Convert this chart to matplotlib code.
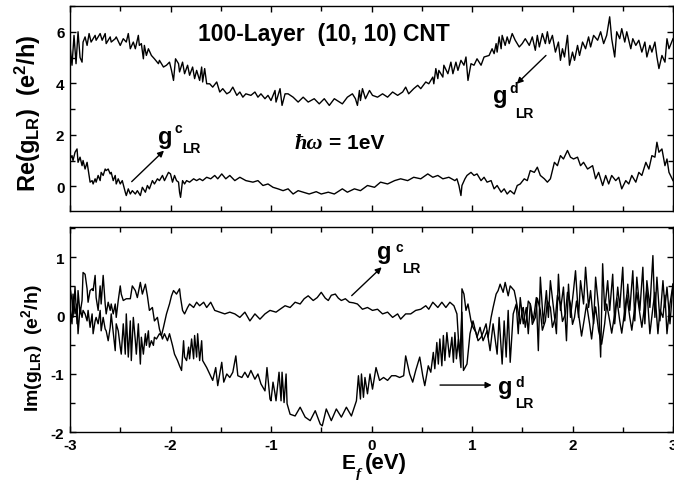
import matplotlib
matplotlib.use('Agg')
import matplotlib.pyplot as plt
from matplotlib.ticker import MultipleLocator

plt.rcParams['font.family'] = ['Liberation Sans', 'DejaVu Sans']
plt.rcParams['font.weight'] = 'bold'
plt.rcParams['axes.unicode_minus'] = False
plt.rcParams['mathtext.fontset'] = 'custom'
plt.rcParams['mathtext.rm'] = 'Liberation Sans:bold'
plt.rcParams['mathtext.bf'] = 'Liberation Sans:bold'
plt.rcParams['mathtext.it'] = 'Liberation Sans:italic:bold'

# ---- data: (E_f [eV], value [e^2/h]) ----
re_gd = [(-3.00, 5.47), (-2.98, 4.70), (-2.96, 5.86), (-2.94, 4.76), (-2.92, 6.00), (-2.90, 5.00),
         (-2.88, 4.82), (-2.87, 5.60), (-2.85, 5.80), (-2.83, 5.47), (-2.81, 5.93), (-2.79, 5.60),
         (-2.75, 5.86), (-2.74, 5.67), (-2.70, 5.93), (-2.68, 5.67), (-2.65, 5.93), (-2.64, 5.54),
         (-2.60, 5.80), (-2.59, 5.60), (-2.55, 5.73), (-2.54, 5.80), (-2.50, 5.47), (-2.47, 5.73),
         (-2.44, 5.60), (-2.42, 5.93), (-2.40, 5.34), (-2.37, 5.60), (-2.35, 5.34), (-2.32, 5.86),
         (-2.31, 5.47), (-2.29, 5.54), (-2.27, 4.95), (-2.26, 5.47), (-2.24, 5.08), (-2.22, 5.34),
         (-2.19, 5.08), (-2.16, 4.95), (-2.12, 4.76), (-2.11, 4.89), (-2.07, 4.63), (-2.04, 4.70),
         (-2.01, 4.82), (-1.99, 4.50), (-1.97, 4.11), (-1.95, 4.95), (-1.92, 4.76), (-1.91, 4.44),
         (-1.88, 4.82), (-1.86, 4.37), (-1.83, 4.70), (-1.81, 4.31), (-1.78, 4.63), (-1.76, 4.18),
         (-1.74, 4.50), (-1.71, 4.11), (-1.69, 4.63), (-1.68, 4.05), (-1.66, 4.57), (-1.64, 3.98),
         (-1.61, 3.98), (-1.58, 3.85), (-1.54, 4.05), (-1.51, 3.66), (-1.48, 3.79), (-1.44, 3.59),
         (-1.41, 3.66), (-1.38, 3.85), (-1.34, 3.53), (-1.31, 3.66), (-1.28, 3.46), (-1.25, 3.59),
         (-1.20, 3.53), (-1.16, 3.66), (-1.13, 3.46), (-1.10, 3.59), (-1.06, 3.40), (-1.03, 3.53),
         (-1.00, 3.33), (-0.96, 3.72), (-0.95, 3.27), (-0.91, 3.79), (-0.89, 3.14), (-0.86, 3.59),
         (-0.83, 3.59), (-0.78, 3.46), (-0.73, 3.27), (-0.68, 3.46), (-0.63, 3.27), (-0.57, 3.40),
         (-0.52, 3.20), (-0.47, 3.40), (-0.42, 3.14), (-0.37, 3.40), (-0.29, 3.20), (-0.24, 3.46),
         (-0.19, 3.59), (-0.16, 3.40), (-0.14, 3.14), (-0.12, 3.72), (-0.11, 3.33), (-0.09, 3.79),
         (-0.06, 3.40), (-0.02, 3.72), (0.01, 3.53), (0.06, 3.46), (0.11, 3.59), (0.16, 3.46),
         (0.21, 3.66), (0.26, 3.53), (0.31, 3.66), (0.34, 3.85), (0.37, 3.59), (0.42, 3.79),
         (0.46, 3.92), (0.49, 3.79), (0.54, 4.05), (0.57, 3.98), (0.61, 4.24), (0.62, 3.98),
         (0.64, 4.57), (0.66, 4.18), (0.67, 4.50), (0.71, 4.24), (0.72, 4.70), (0.76, 4.37),
         (0.79, 4.82), (0.81, 4.37), (0.84, 4.82), (0.86, 4.50), (0.89, 4.89), (0.92, 4.70),
         (0.94, 5.02), (0.96, 4.11), (0.99, 4.76), (1.02, 4.70), (1.05, 4.95), (1.09, 4.70),
         (1.12, 5.02), (1.17, 5.08), (1.20, 5.34), (1.22, 5.15), (1.24, 5.54), (1.25, 5.21),
         (1.27, 5.80), (1.29, 5.34), (1.30, 5.86), (1.33, 5.47), (1.35, 5.80), (1.37, 5.54),
         (1.40, 5.93), (1.43, 5.67), (1.47, 5.41), (1.50, 5.54), (1.53, 5.73), (1.57, 5.47),
         (1.60, 5.80), (1.63, 5.28), (1.65, 5.86), (1.67, 5.41), (1.70, 5.93), (1.73, 5.54),
         (1.75, 6.00), (1.77, 5.54), (1.80, 5.86), (1.83, 5.21), (1.86, 5.60), (1.88, 4.89),
         (1.90, 5.34), (1.92, 5.02), (1.95, 5.86), (1.97, 4.70), (2.00, 5.21), (2.02, 4.89),
         (2.05, 5.47), (2.07, 5.08), (2.10, 5.60), (2.13, 5.34), (2.16, 5.80), (2.18, 5.41),
         (2.21, 5.86), (2.25, 5.67), (2.28, 6.00), (2.31, 5.54), (2.34, 5.86), (2.37, 6.58),
         (2.39, 5.73), (2.42, 5.02), (2.44, 6.00), (2.47, 5.73), (2.49, 6.12), (2.52, 5.60),
         (2.54, 6.00), (2.58, 5.34), (2.60, 5.73), (2.63, 5.47), (2.66, 5.67), (2.69, 5.21),
         (2.72, 5.60), (2.74, 5.02), (2.77, 5.47), (2.79, 5.21), (2.82, 5.60), (2.84, 5.02),
         (2.86, 4.57), (2.89, 5.08), (2.92, 4.82), (2.94, 5.73), (2.96, 5.34), (3.00, 5.73)]

re_gc = [(-3.00, 1.06), (-2.98, 1.19), (-2.97, 1.00), (-2.95, 1.32), (-2.93, 1.45), (-2.92, 0.93),
         (-2.90, 1.13), (-2.88, 0.80), (-2.87, 1.00), (-2.85, 0.67), (-2.83, 0.93), (-2.82, 0.67),
         (-2.80, 0.16), (-2.78, 0.22), (-2.77, 0.09), (-2.75, 0.29), (-2.74, 0.16), (-2.72, 0.42),
         (-2.70, 0.22), (-2.69, 0.54), (-2.67, 0.42), (-2.65, 0.67), (-2.64, 0.61), (-2.62, 0.67),
         (-2.60, 0.48), (-2.59, 0.54), (-2.57, 0.22), (-2.55, 0.42), (-2.54, 0.09), (-2.52, 0.29),
         (-2.50, 0.09), (-2.48, 0.22), (-2.45, -0.23), (-2.44, -0.36), (-2.42, -0.10), (-2.40, -0.30),
         (-2.38, -0.17), (-2.35, -0.30), (-2.33, -0.17), (-2.30, -0.36), (-2.28, -0.04), (-2.25, -0.23),
         (-2.23, 0.03), (-2.21, -0.10), (-2.18, 0.22), (-2.16, 0.09), (-2.13, 0.29), (-2.11, 0.22),
         (-2.08, 0.42), (-2.06, 0.22), (-2.02, 0.54), (-2.00, 0.48), (-1.98, 0.16), (-1.96, 0.42),
         (-1.94, 0.22), (-1.92, 0.16), (-1.91, -0.23), (-1.90, -0.43), (-1.88, 0.22), (-1.86, 0.09),
         (-1.84, 0.22), (-1.81, 0.16), (-1.77, 0.29), (-1.74, 0.22), (-1.71, 0.29), (-1.68, 0.22),
         (-1.64, 0.35), (-1.60, 0.29), (-1.56, 0.42), (-1.53, 0.29), (-1.49, 0.48), (-1.45, 0.29),
         (-1.41, 0.42), (-1.36, 0.22), (-1.31, 0.35), (-1.25, 0.22), (-1.18, 0.16), (-1.13, 0.22),
         (-1.08, 0.03), (-1.03, 0.09), (-0.98, -0.04), (-0.93, -0.10), (-0.88, -0.17), (-0.83, -0.10),
         (-0.78, -0.30), (-0.73, -0.17), (-0.68, -0.23), (-0.62, -0.30), (-0.55, -0.21), (-0.50, -0.30),
         (-0.43, -0.23), (-0.37, -0.30), (-0.29, -0.10), (-0.24, -0.23), (-0.17, -0.10), (-0.11, -0.17),
         (-0.04, 0.03), (0.03, -0.04), (0.09, 0.16), (0.16, 0.09), (0.23, 0.22), (0.29, 0.29),
         (0.36, 0.22), (0.42, 0.35), (0.49, 0.29), (0.56, 0.48), (0.61, 0.35), (0.66, 0.42),
         (0.71, 0.29), (0.77, 0.35), (0.83, 0.22), (0.85, 0.29), (0.87, 0.03), (0.89, -0.36),
         (0.90, 0.03), (0.93, 0.29), (0.95, 0.42), (0.99, 0.54), (1.02, 0.42), (1.05, 0.48),
         (1.09, 0.22), (1.12, 0.35), (1.15, 0.16), (1.19, 0.22), (1.22, -0.10), (1.25, 0.03),
         (1.29, -0.23), (1.32, -0.10), (1.35, -0.30), (1.38, -0.17), (1.42, -0.30), (1.45, 0.03),
         (1.48, 0.09), (1.52, 0.29), (1.55, 0.22), (1.58, 0.61), (1.62, 0.54), (1.65, 0.74),
         (1.68, 0.42), (1.72, 0.29), (1.75, 0.16), (1.78, 0.29), (1.82, 0.93), (1.85, 0.80),
         (1.88, 1.19), (1.91, 1.06), (1.95, 1.39), (1.98, 1.13), (2.01, 1.06), (2.05, 1.13),
         (2.08, 0.80), (2.11, 0.93), (2.15, 0.67), (2.20, 0.80), (2.23, 0.29), (2.26, 0.54),
         (2.30, 0.03), (2.33, 0.42), (2.36, 0.09), (2.39, 0.42), (2.43, 0.22), (2.46, 0.35),
         (2.49, -0.10), (2.53, 0.22), (2.56, 0.09), (2.59, 0.42), (2.63, 0.16), (2.66, 0.54),
         (2.69, 0.42), (2.73, 0.93), (2.76, 0.67), (2.79, 1.19), (2.82, 1.13), (2.84, 1.71),
         (2.86, 1.32), (2.89, 1.45), (2.92, 0.80), (2.94, 1.06), (2.96, 0.54), (3.00, 0.22)]

im_gd = [(-3.00, 0.49), (-2.98, 0.26), (-2.97, -0.03), (-2.95, 0.49), (-2.93, -0.14), (-2.92, 0.43),
         (-2.90, 0.03), (-2.88, 0.26), (-2.87, 0.74), (-2.85, 0.71), (-2.83, 0.46), (-2.82, 0.23),
         (-2.80, 0.43), (-2.78, 0.46), (-2.77, 0.43), (-2.75, 0.69), (-2.74, 0.31), (-2.72, 0.09),
         (-2.70, 0.51), (-2.69, 0.20), (-2.67, 0.69), (-2.65, 0.20), (-2.64, 0.03), (-2.62, 0.23),
         (-2.60, 0.09), (-2.59, 0.20), (-2.57, 0.03), (-2.55, 0.20), (-2.54, -0.03), (-2.52, 0.26),
         (-2.50, 0.51), (-2.49, 0.37), (-2.47, 0.26), (-2.44, 0.29), (-2.40, 0.29), (-2.38, 0.51),
         (-2.35, 0.43), (-2.33, 0.31), (-2.30, 0.57), (-2.28, 0.37), (-2.25, 0.54), (-2.23, 0.34),
         (-2.21, 0.09), (-2.18, 0.14), (-2.16, -0.09), (-2.13, -0.03), (-2.11, -0.23), (-2.08, -0.40),
         (-2.06, -0.31), (-2.03, -0.43), (-2.01, -0.31), (-1.98, -0.51), (-1.96, -0.66), (-1.93, -0.77),
         (-1.91, -0.86), (-1.89, -0.94), (-1.87, -0.43), (-1.86, -0.71), (-1.84, -0.77), (-1.82, -0.54),
         (-1.81, -0.74), (-1.79, -0.40), (-1.77, -0.74), (-1.76, -0.34), (-1.74, -0.71), (-1.73, -0.31),
         (-1.71, -0.77), (-1.69, -0.43), (-1.68, -0.77), (-1.64, -0.89), (-1.61, -1.00), (-1.58, -1.11),
         (-1.55, -0.89), (-1.53, -1.20), (-1.49, -0.80), (-1.47, -1.14), (-1.44, -1.00), (-1.41, -1.06),
         (-1.38, -0.97), (-1.35, -0.69), (-1.33, -1.03), (-1.29, -1.06), (-1.26, -0.97), (-1.23, -1.06),
         (-1.20, -0.94), (-1.16, -1.09), (-1.13, -1.00), (-1.10, -1.17), (-1.06, -1.29), (-1.04, -0.89),
         (-1.01, -1.43), (-1.00, -1.46), (-0.98, -1.14), (-0.96, -1.34), (-0.95, -1.46), (-0.92, -0.97),
         (-0.90, -1.46), (-0.89, -0.97), (-0.87, -1.49), (-0.85, -1.00), (-0.84, -1.51), (-0.81, -1.69),
         (-0.76, -1.72), (-0.71, -1.57), (-0.66, -1.74), (-0.61, -1.80), (-0.56, -1.63), (-0.51, -1.86),
         (-0.49, -1.89), (-0.45, -1.60), (-0.40, -1.80), (-0.35, -1.60), (-0.30, -1.74), (-0.25, -1.57),
         (-0.20, -1.72), (-0.15, -1.46), (-0.13, -1.03), (-0.11, -1.43), (-0.10, -1.00), (-0.08, -1.40),
         (-0.065, -1.06), (-0.04, -1.34), (-0.015, -1.00), (0.01, -1.26), (0.045, -0.89), (0.08, -1.11),
         (0.12, -1.06), (0.16, -1.11), (0.20, -1.03), (0.24, -1.03), (0.28, -1.06), (0.32, -1.03),
         (0.34, -0.69), (0.38, -1.00), (0.41, -1.14), (0.44, -0.94), (0.48, -0.71), (0.51, -1.03),
         (0.53, -1.20), (0.565, -0.86), (0.59, -0.97), (0.615, -0.63), (0.63, -0.91), (0.65, -0.46),
         (0.665, -0.83), (0.68, -0.40), (0.70, -0.86), (0.715, -0.34), (0.73, -0.77), (0.75, -0.29),
         (0.775, -0.71), (0.80, -0.37), (0.815, -0.80), (0.83, -0.29), (0.845, -0.74), (0.865, -0.40),
         (0.88, -0.69), (0.90, 0.06), (0.915, -0.94), (0.95, -0.83), (0.98, -0.31), (1.01, -0.09),
         (1.05, -0.37), (1.08, -0.20), (1.11, -0.43), (1.15, -0.26), (1.18, -0.60), (1.21, -0.14),
         (1.25, -0.66), (1.27, -0.03), (1.30, -0.83), (1.32, -0.09), (1.34, -0.71), (1.36, 0.09),
         (1.38, -0.80), (1.41, 0.03), (1.44, 0.20), (1.46, -0.31), (1.48, 0.31), (1.51, -0.14),
         (1.54, 0.14), (1.56, -0.31), (1.58, 0.20), (1.61, -0.09), (1.64, 0.31), (1.66, -0.60),
         (1.68, 0.66), (1.71, -0.14), (1.74, 0.43), (1.76, -0.03), (1.78, 0.60), (1.81, 0.14),
         (1.84, -0.31), (1.86, 0.71), (1.88, 0.09), (1.91, 0.49), (1.94, -0.43), (1.96, 0.54),
         (1.98, -0.03), (2.01, 0.43), (2.03, 0.77), (2.06, -0.03), (2.08, 0.60), (2.11, 0.20),
         (2.13, 0.83), (2.16, 0.14), (2.18, 0.43), (2.21, -0.14), (2.23, 0.66), (2.26, 0.14),
         (2.28, -0.71), (2.30, 0.89), (2.32, 0.09), (2.35, 0.60), (2.37, 0.09), (2.40, 0.71),
         (2.42, -0.14), (2.45, 0.49), (2.47, 0.14), (2.50, 0.83), (2.52, -0.09), (2.55, 0.54),
         (2.57, 0.09), (2.60, 0.77), (2.62, -0.09), (2.64, 0.66), (2.67, 0.09), (2.70, 0.83),
         (2.72, -0.14), (2.74, 0.60), (2.77, 0.14), (2.80, 1.03), (2.82, -0.03), (2.84, 0.66),
         (2.87, -0.09), (2.90, 0.60), (2.92, 0.14), (2.94, 0.49), (2.97, -0.14), (3.00, 0.54)]

im_gc = [(-3.00, 0.14), (-2.98, -0.14), (-2.97, 0.37), (-2.95, 0.03), (-2.93, 0.20), (-2.92, -0.31),
         (-2.90, 0.14), (-2.88, -0.03), (-2.87, 0.09), (-2.85, 0.03), (-2.83, -0.09), (-2.82, 0.09),
         (-2.80, -0.20), (-2.78, 0.03), (-2.77, -0.31), (-2.75, -0.09), (-2.74, -0.03), (-2.72, -0.14),
         (-2.70, 0.09), (-2.69, -0.26), (-2.67, -0.03), (-2.65, -0.23), (-2.64, -0.26), (-2.62, -0.43),
         (-2.60, -0.20), (-2.59, 0.03), (-2.57, -0.29), (-2.55, -0.60), (-2.54, -0.14), (-2.52, -0.26),
         (-2.50, -0.54), (-2.49, -0.66), (-2.47, -0.14), (-2.45, -0.66), (-2.44, 0.03), (-2.42, -0.71),
         (-2.40, -0.09), (-2.39, -0.77), (-2.37, -0.03), (-2.35, -0.43), (-2.34, -0.66), (-2.32, -0.14),
         (-2.30, -0.83), (-2.29, -0.37), (-2.27, -0.66), (-2.25, -0.31), (-2.24, -0.51), (-2.22, -0.26),
         (-2.21, -0.54), (-2.19, -0.43), (-2.17, -0.51), (-2.16, -0.37), (-2.14, -0.40), (-2.11, -0.31),
         (-2.09, -0.34), (-2.07, -0.20), (-2.04, 0.03), (-2.01, 0.20), (-1.99, 0.34), (-1.97, 0.43),
         (-1.94, 0.37), (-1.91, 0.46), (-1.90, 0.31), (-1.88, 0.09), (-1.86, 0.03), (-1.83, 0.14),
         (-1.81, 0.20), (-1.77, 0.14), (-1.74, 0.23), (-1.71, 0.17), (-1.67, 0.23), (-1.64, 0.14),
         (-1.60, 0.23), (-1.56, 0.09), (-1.51, 0.06), (-1.46, 0.03), (-1.41, 0.06), (-1.36, 0.03),
         (-1.31, -0.03), (-1.26, 0.06), (-1.21, -0.09), (-1.16, 0.03), (-1.11, -0.06), (-1.06, 0.03),
         (-1.01, 0.09), (-0.95, 0.06), (-0.91, 0.11), (-0.86, 0.17), (-0.81, 0.14), (-0.76, 0.23),
         (-0.71, 0.20), (-0.67, 0.29), (-0.63, 0.34), (-0.58, 0.26), (-0.54, 0.31), (-0.50, 0.40),
         (-0.46, 0.30), (-0.43, 0.26), (-0.40, 0.35), (-0.36, 0.37), (-0.33, 0.30), (-0.30, 0.26),
         (-0.26, 0.29), (-0.22, 0.23), (-0.18, 0.22), (-0.14, 0.20), (-0.09, 0.11), (-0.04, 0.14),
         (0.01, 0.09), (0.06, 0.11), (0.11, 0.03), (0.16, 0.06), (0.21, -0.03), (0.26, 0.03),
         (0.29, -0.06), (0.34, 0.03), (0.39, 0.03), (0.44, 0.09), (0.49, 0.11), (0.54, 0.17),
         (0.57, 0.11), (0.61, 0.23), (0.66, 0.14), (0.70, 0.23), (0.74, 0.14), (0.78, 0.23),
         (0.82, 0.17), (0.85, 0.03), (0.87, -0.54), (0.89, -0.89), (0.90, 0.46), (0.92, 0.37),
         (0.94, 0.09), (0.96, 0.20), (0.99, -0.09), (1.01, -0.20), (1.04, -0.29), (1.06, -0.43),
         (1.09, -0.37), (1.11, -0.29), (1.14, -0.14), (1.16, -0.37), (1.19, -0.03), (1.21, 0.14),
         (1.24, 0.37), (1.26, 0.43), (1.28, 0.54), (1.31, 0.40), (1.33, 0.57), (1.36, 0.34),
         (1.38, 0.51), (1.42, 0.43), (1.44, 0.26), (1.48, -0.14), (1.50, 0.10), (1.51, 0.14),
         (1.53, -0.20), (1.54, -0.09), (1.56, 0.25), (1.58, 0.20), (1.60, -0.15), (1.63, -0.03),
         (1.65, 0.30), (1.68, 0.09), (1.70, -0.25), (1.73, -0.09), (1.75, 0.25), (1.78, 0.14),
         (1.80, -0.20), (1.83, -0.03), (1.85, 0.35), (1.88, 0.20), (1.90, -0.10), (1.93, 0.03),
         (1.95, 0.40), (1.98, 0.20), (2.00, -0.15), (2.02, -0.03), (2.04, 0.25), (2.07, -0.09),
         (2.09, -0.35), (2.12, -0.03), (2.14, 0.20), (2.17, -0.14), (2.19, -0.40), (2.21, -0.09),
         (2.23, 0.15), (2.26, -0.26), (2.29, -0.49), (2.32, -0.14), (2.34, 0.20), (2.37, -0.09),
         (2.39, -0.30), (2.42, 0.03), (2.44, 0.30), (2.47, -0.09), (2.49, -0.30), (2.52, 0.09),
         (2.54, 0.35), (2.57, -0.03), (2.59, -0.25), (2.62, 0.14), (2.64, 0.40), (2.67, 0.03),
         (2.69, -0.20), (2.72, 0.20), (2.74, 0.45), (2.77, -0.31), (2.80, 0.14), (2.82, 0.40),
         (2.85, -0.31), (2.87, 0.10), (2.90, -0.03), (2.92, 0.35), (2.94, -0.31), (2.97, 0.20),
         (3.00, 0.54)]


def xy(pairs):
    return [p[0] for p in pairs], [p[1] for p in pairs]


def g_label(ax, x, y, sup, sup_off, sub_off):
    # big "g" with a superscript and an "LR" subscript placed by hand
    ax.text(x, y, 'g', fontsize=17, fontweight='bold', ha='left', va='baseline')
    ax.annotate(sup, (x, y), xytext=sup_off, textcoords='offset points',
                fontsize=10, fontweight='bold', ha='left', va='baseline')
    ax.annotate('LR', (x, y), xytext=sub_off, textcoords='offset points',
                fontsize=10, fontweight='bold', ha='left', va='baseline')


def arrow(ax, start, end):
    ax.annotate('', xy=end, xytext=start,
                arrowprops=dict(arrowstyle='-|>', color='k', lw=1.0, mutation_scale=9,
                                shrinkA=0, shrinkB=0))


W, H = 674, 481
fig = plt.figure(figsize=(W / 100, H / 100), dpi=100)
ax1 = fig.add_axes([70 / W, 1 - 212 / H, 603 / W, 205 / H])
ax2 = fig.add_axes([70 / W, 1 - 433.3 / H, 603 / W, 205.3 / H])

lw = 1.0
ax1.plot(*xy(re_gd), color='k', lw=lw)
ax1.plot(*xy(re_gc), color='k', lw=lw)
ax2.plot(*xy(im_gd), color='k', lw=lw)
ax2.plot(*xy(im_gc), color='k', lw=lw)

ax1.set_xlim(-3, 3)
ax1.set_ylim(-0.96, 7.0)
ax2.set_xlim(-3, 3)
ax2.set_ylim(-2.0, 1.52)

for ax in (ax1, ax2):
    ax.xaxis.set_major_locator(MultipleLocator(1))
    ax.xaxis.set_minor_locator(MultipleLocator(0.5))
    ax.tick_params(which='both', direction='in', top=True, right=True, width=1,
                   labelsize=11, pad=4)
    ax.tick_params(which='major', length=4.5)
    ax.tick_params(which='minor', length=3.5)
    for s in ax.spines.values():
        s.set_linewidth(1.0)
    for lab in ax.get_xticklabels() + ax.get_yticklabels():
        lab.set_fontweight('bold')

ax1.yaxis.set_major_locator(MultipleLocator(2))
ax1.yaxis.set_minor_locator(MultipleLocator(1))
ax1.tick_params(labelbottom=False)
ax2.yaxis.set_major_locator(MultipleLocator(1))
ax2.yaxis.set_minor_locator(MultipleLocator(0.5))

# texts in the top panel
ax1.text(-1.726, 5.67, '100-Layer  (10, 10) CNT', fontsize=16.5, fontweight='bold',
         ha='left', va='baseline')
ax1.text(-0.761, 1.48, '\u0127\u03c9', fontsize=16, fontweight='bold', style='italic',
         family='Liberation Serif', ha='left', va='baseline')
ax1.text(-0.423, 1.48, '= 1eV', fontsize=15, fontweight='bold', ha='left', va='baseline')

g_label(ax1, -2.124, 1.665, 'c', (12.2, 8.0), (17.0, -6.5))
arrow(ax1, (-2.386, 0.18), (-2.065, 1.385))
g_label(ax1, 1.212, 3.288, 'd', (11.5, 6.8), (15.6, -11.2))
arrow(ax1, (1.736, 5.08), (1.445, 3.98))

# texts in the bottom panel
g_label(ax2, 0.052, 0.981, 'c', (13.2, 5.6), (18.0, -9.9))
arrow(ax2, (-0.197, 0.343), (0.101, 0.83))
g_label(ax2, 1.262, -1.334, 'd', (12.0, 5.6), (12.0, -9.9))
arrow(ax2, (0.682, -1.19), (1.196, -1.19))

# axis labels
fig.text(28 / W, 1 - 113 / H, r'Re(g$_{\mathrm{LR}}$)  (e$^{\mathrm{2}}$/h)', fontsize=17,
         fontweight='bold', rotation=90, ha='center', va='center')
fig.text(32 / W, 1 - 348.5 / H, r'Im(g$_{\mathrm{LR}}$)  (e$^{\mathrm{2}}$/h)', fontsize=14,
         fontweight='bold', rotation=90, ha='center', va='center')
fig.text(342 / W, 1 - 469 / H, 'E', fontsize=15, fontweight='bold', ha='left', va='baseline')
fig.text(356 / W, 1 - 478 / H, 'f', fontsize=11, fontweight='bold', style='italic',
         family='Liberation Serif', ha='left', va='baseline')
fig.text(365 / W, 1 - 469 / H, '(eV)', fontsize=16, fontweight='bold', ha='left', va='baseline')

fig.savefig('out.png', dpi=100)
